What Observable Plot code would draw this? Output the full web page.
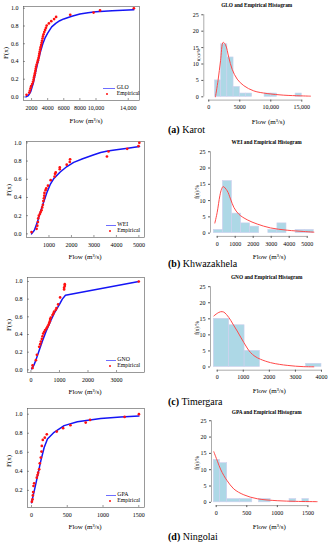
<!DOCTYPE html>
<html><head><meta charset="utf-8">
<script src="https://cdn.jsdelivr.net/npm/d3@7"></script>
<script src="https://cdn.jsdelivr.net/npm/@observablehq/plot@0.6"></script>
<style>
body{margin:0;background:#fff;}
#root{position:relative;width:331px;height:550px;overflow:hidden;font-family:"Liberation Serif","DejaVu Serif",serif;color:#000;background:#fff;}
#root svg{position:absolute;overflow:visible;}
.t{position:absolute;white-space:nowrap;line-height:1;}
</style></head><body><div id="root"></div>
<script>
// ---------------- DATA ----------------
// (a) Karot
const karotEmpX = [1380,1720,1800,1880,1950,2080,2180,2250,2300,2360,2420,2470,2520,2560,2640,2720,2800,2860,2920,2960,3020,3080,3130,3190,3250,3300,3360,3420,3490,3580,3680,3790,3880,4150,4450,4800,5050,6800,9700,10500,14700];
const karotEmpY = [0.024,0.049,0.073,0.098,0.122,0.146,0.171,0.195,0.220,0.244,0.268,0.293,0.317,0.341,0.366,0.390,0.415,0.439,0.463,0.488,0.512,0.537,0.561,0.585,0.610,0.634,0.659,0.683,0.707,0.732,0.756,0.780,0.805,0.829,0.854,0.878,0.902,0.927,0.951,0.976,1.000];
const karotFitX = [1300,1600,1900,2200,2500,2800,3100,3400,3700,4000,4500,5000,5500,6000,7000,8000,9000,10000,12000,14700];
const karotFitY = [0.0,0.015,0.06,0.15,0.28,0.40,0.51,0.60,0.67,0.72,0.79,0.83,0.86,0.88,0.91,0.935,0.95,0.96,0.972,0.982];
const karotBinLo = [1000,2000,3000,4000,5000,6000,9000,10000,14000];
const karotBinHi = [2000,3000,4000,5000,6000,7000,10000,11000,15000];
const karotCount = [5,16,12,3,1,1,1,1,1];
const karotPdfX = [1080,1500,1900,2320,2690,3230,3770,4580,5650,7260,9410,12100,14800,16400];
const karotPdfY = [0,5,11,16.6,15.9,12,8.4,5.4,3.4,1.8,1.0,0.5,0.3,0.2];

// (b) Khwazakhela
const khwaEmpX = [224,450,480,507,520,550,600,630,670,700,730,750,775,790,800,850,880,955,1075,1250,1270,1300,1480,1480,1790,1925,1940,3580,3650,4480,4980,5020];
const khwaEmpY = [0.02,0.055,0.09,0.13,0.17,0.20,0.22,0.24,0.26,0.29,0.32,0.36,0.39,0.42,0.45,0.48,0.50,0.53,0.59,0.63,0.66,0.675,0.71,0.73,0.76,0.79,0.82,0.85,0.905,0.935,0.965,1.0];
const khwaFitX = [224,350,500,630,750,900,1050,1220,1500,1800,2100,2500,3000,3300,3610,4000,4500,5030];
const khwaFitY = [0.0,0.04,0.14,0.25,0.34,0.45,0.54,0.61,0.68,0.74,0.785,0.825,0.87,0.895,0.91,0.925,0.94,0.96];
const khwaBinLo = [-190,315,820,1325,1830,2840,3345,4355,4860];
const khwaBinHi = [315,820,1325,1830,2335,3345,3850,4860,5365];
const khwaCount = [1,16,6,3,2,1,3,1,1];
const khwaPdfX = [-130,0,148,241,333,555,740,926,1204,1667,2222,2963,3889,4815,5370];
const khwaPdfY = [3.1,6.4,11.5,13.5,14.3,13.0,10.5,7.9,5.8,4.1,2.8,1.6,0.9,0.5,0.3];

// (c) Timergara
const timEmpX = [58,58,174,209,290,326,349,384,407,430,465,500,547,581,616,640,663,674,698,756,790,814,872,895,953,1023,1163,1163,1186,1186,3780];
const timEmpY = [0.02,0.05,0.11,0.17,0.26,0.29,0.32,0.35,0.38,0.41,0.43,0.45,0.47,0.49,0.51,0.53,0.55,0.575,0.59,0.62,0.64,0.66,0.68,0.70,0.74,0.82,0.91,0.93,0.95,0.97,1.0];
const timFitX = [23,100,174,300,407,550,698,850,1000,1100,1210,3780];
const timFitY = [0.01,0.05,0.11,0.23,0.33,0.45,0.56,0.66,0.74,0.80,0.845,1.0];
const timBinLo = [-130,460,1050,3410];
const timBinHi = [460,1050,1640,4000];
const timCount = [15,13,5,1];
const timPdfX = [-128,0,128,250,447,600,767,900,1022,1150,1278,1450,1661,2045,2400,2684,3000,3323,3706];
const timPdfY = [15.9,16.7,17.2,17.1,15.4,13.4,11.2,9.3,7.6,5.9,4.5,3.3,2.4,1.35,0.8,0.5,0.25,0.1,0.05];

// (d) Ningolai
const ninEmpX = [5,14,19,23,28,37,74,84,93,107,116,130,140,144,158,186,214,353,442,544,758,819,1302,1502];
const ninEmpY = [0.081,0.105,0.147,0.182,0.246,0.274,0.333,0.361,0.386,0.421,0.484,0.544,0.607,0.667,0.73,0.754,0.789,0.818,0.853,0.884,0.912,0.94,0.972,1.0];
const ninFitX = [0,37,84,130,177,223,316,456,642,967,1247,1502];
const ninFitY = [0.07,0.19,0.35,0.51,0.65,0.74,0.81,0.88,0.92,0.955,0.97,0.98];
const ninBinLo = [-40,60,180,385,700,1200,1410];
const ninBinHi = [60,180,385,590,890,1310,1515];
const ninCount = [13,12,1,1,1,1,1];
const ninPdfX = [-39,20,70,125,180,288,452,671,998,1300,1650];
const ninPdfY = [15.5,12.6,10.2,8.2,6.6,4.1,2.3,1.1,0.5,0.3,0.2];

// tick labels
const karotCdfTicks = [2000,4000,6000,8000,10000,14000];
const karotCdfLabels = ["2000","4000","6000","8000","10,000","14,000"];
const khwaCdfTicks = [1000,2000,3000,4000,5000];
const timCdfTicks = [0,1000,2000,3000];
const ninCdfTicks = [0,500,1000,1500];
const cdfYTicks = [0,0.2,0.4,0.6,0.8,1.0];
const ninCdfYTicks = [0.2,0.4,0.6,0.8,1.0];
const karotHistTicks = [0,5000,10000,15000];
const karotHistLabels = ["0","5000","10,000","15,000"];
const khwaHistTicks = [0,1000,2000,3000,4000,5000];
const timHistTicks = [0,1000,2000,3000,4000];
const ninHistTicks = [0,500,1000,1500];
const histYTicks = [0,5,10,15,20,25];

const fitNames = ["GLO","WEI","GNO","GPA"];
const siteNames = ["Karot","Khwazakhela","Timergara","Ningolai"];
const captionLetters = ["(a)","(b)","(c)","(d)"];

// ---------------- DRAW ----------------
const root = document.getElementById("root");
const FONT = '"Liberation Serif","DejaVu Serif",serif';
function pts(xs, ys){ return xs.map((x,i)=>({x, y: ys[i]})); }
function bins(lo, hi, n){ return lo.map((l,i)=>({lo:l, hi:hi[i], n:n[i]})).filter(d=>d.n>0); }
function place(svg, left, top){ svg.style.left = left+"px"; svg.style.top = top+"px"; root.appendChild(svg); }
function text(str, x, y, o={}){
  const d = document.createElement("div");
  d.className = "t";
  d.innerHTML = str;
  d.style.fontSize = (o.size||7)+"px";
  if (o.bold) d.style.fontWeight = "bold";
  d.style.left = x+"px"; d.style.top = y+"px";
  let tr = o.anchor==="start" ? "translate(0,-50%)" : "translate(-50%,-50%)";
  if (o.rotate) tr += " rotate(-90deg)";
  d.style.transform = tr;
  root.appendChild(d);
}
function box(x, y, w, h, color, radius){
  const d = document.createElement("div");
  d.style.position="absolute"; d.style.left=x+"px"; d.style.top=y+"px";
  d.style.width=w+"px"; d.style.height=h+"px"; d.style.background=color;
  if (radius) d.style.borderRadius = radius;
  root.appendChild(d);
}
function fmtMap(ticks, labels){ const m = new Map(ticks.map((t,i)=>[t, labels ? labels[i] : String(t)])); return d => m.get(d); }

const cdfPanels = [
  {frame:[23,139,6,100], xDomain:[1000,15400], yDomain:[-0.04,1.02], xTicks:karotCdfTicks, xLabels:karotCdfLabels, yTicks:cdfYTicks, fx:karotFitX, fy:karotFitY, ex:karotEmpX, ey:karotEmpY, yLab:[6,53], xLab:[86,121], leg:[103,115]},
  {frame:[26,144,141,237], xDomain:[0,5250], yDomain:[-0.04,1.015], xTicks:khwaCdfTicks, yTicks:cdfYTicks, fx:khwaFitX, fy:khwaFitY, ex:khwaEmpX, ey:khwaEmpY, yLab:[9,190], xLab:[85,257], leg:[106,115.5]},
  {frame:[27,144,277,372], xDomain:[-120,3980], yDomain:[-0.03,1.045], xTicks:timCdfTicks, yTicks:cdfYTicks, fx:timFitX, fy:timFitY, ex:timEmpX, ey:timEmpY, yLab:[9,325], xLab:[85,392], leg:[106,115.5]},
  {frame:[27,144,408,507], xDomain:[-56,1580], yDomain:[0.02,1.06], xTicks:ninCdfTicks, yTicks:ninCdfYTicks, fx:ninFitX, fy:ninFitY, ex:ninEmpX, ey:ninEmpY, yLab:[9,461], xLab:[85,527], leg:[106,115.5]}
];

cdfPanels.forEach((p, k) => {
  const [fl, fr, ft, fb] = p.frame;
  const W = 168, mt = 6, mb = 16;
  const fh = fb - ft;
  const svg = Plot.plot({
    width: W, height: fh + mt + mb,
    marginLeft: fl, marginRight: W - fr, marginTop: mt, marginBottom: mb,
    x: {domain: p.xDomain, label: null},
    y: {domain: p.yDomain, label: null},
    style: {fontFamily: FONT, fontSize: "6px", background: "transparent", color: "#000"},
    marks: [
      Plot.frame({stroke: "#555", strokeWidth: 0.6}),
      Plot.tickX(p.xTicks, {x: d=>d, insetTop: fh - 2, stroke: "#555", strokeWidth: 0.6}),
      Plot.tickY(p.yTicks, {y: d=>d, insetRight: (fr - fl) - 2, stroke: "#555", strokeWidth: 0.6}),
      Plot.axisX(p.xTicks, {tickSize: 0, tickPadding: 5, tickFormat: fmtMap(p.xTicks, p.xLabels)}),
      Plot.axisY(p.yTicks, {tickSize: 0, tickPadding: 5, tickFormat: d => d.toFixed(1)}),
      Plot.line(pts(p.fx, p.fy), {x:"x", y:"y", stroke:"#1515f5", strokeWidth:1.5}),
      Plot.dot(pts(p.ex, p.ey), {x:"x", y:"y", r:1.35, fill:"#ff1010", stroke:"none"})
    ]
  });
  place(svg, 0, ft - mt);
  text("F(x)", p.yLab[0], p.yLab[1], {size:7, rotate:true});
  text("Flow (m³/s)", p.xLab[0], p.xLab[1], {size:7});
  // legend
  const [l0, l1] = p.leg;
  box(l0, fb - 12.3, l1 - l0, 0.8, "#6e6eff");
  text(fitNames[k], l1 + 1.8, fb - 12, {size:5.8, anchor:"start"});
  box(l0 + 2.8, fb - 7.3, 2.6, 2.6, "#ff1010", "50%");
  text("Empirical", l1 + 1.8, fb - 6, {size:5.8, anchor:"start"});
});

const histPanels = [
  {axisX:203.3, top:10.7, bottom:99.3, xDomain:[-800,17500], right:316.8, xTicks:karotHistTicks, xLabels:karotHistLabels, b:bins(karotBinLo,karotBinHi,karotCount), pdf:pts(karotPdfX,karotPdfY), title:[256.7,6], yLab:[199,55], ySize:4.8, xLab:[268.3,121.7]},
  {axisX:210, top:147.7, bottom:235.6, xDomain:[-372,5450], right:314.8, xTicks:khwaHistTicks, b:bins(khwaBinLo,khwaBinHi,khwaCount), pdf:pts(khwaPdfX,khwaPdfY), title:[266.7,143.3], yLab:[197.5,191.7], ySize:5.2, xLab:[269.3,256.7]},
  {axisX:210, top:282.5, bottom:369.2, xDomain:[-257,4150], right:324.9, xTicks:timHistTicks, b:bins(timBinLo,timBinHi,timCount), pdf:pts(timPdfX,timPdfY), title:[266.7,278.3], yLab:[197.5,328], ySize:5.2, xLab:[269.3,390.7]},
  {axisX:211, top:416.9, bottom:505, xDomain:[-77,1680], right:318.4, xTicks:ninHistTicks, b:bins(ninBinLo,ninBinHi,ninCount), pdf:pts(ninPdfX,ninPdfY), title:[266.7,413.3], yLab:[197.5,463], ySize:5.2, xLab:[269.3,526.7]}
];

histPanels.forEach((p, k) => {
  const L = 170, W = 161, svgTop = p.top - 7, mt = 7, mb = 14;
  const yDomain = [-1, 26];
  const svg = Plot.plot({
    width: W, height: (p.bottom - p.top) + mt + mb,
    marginLeft: p.axisX - L, marginRight: (L + W) - p.right, marginTop: mt, marginBottom: mb,
    x: {domain: p.xDomain, label: null},
    y: {domain: yDomain, label: null},
    style: {fontFamily: FONT, fontSize: "6px", background: "transparent", color: "#000"},
    marks: [
      Plot.rect(p.b, {x1:"lo", x2:"hi", y1:0, y2:"n", fill:"#add8e6", stroke:"#cfd0ee", strokeWidth:0.6}),
      Plot.line(p.pdf, {x:"x", y:"y", stroke:"#ff4848", strokeWidth:1, curve:"catmull-rom"}),
      Plot.ruleY([yDomain[0]], {x1: p.xTicks[0], x2: p.xTicks[p.xTicks.length-1], stroke:"#555", strokeWidth:0.5}),
      Plot.ruleX([p.xDomain[0]], {y1: histYTicks[0], y2: histYTicks[histYTicks.length-1], stroke:"#555", strokeWidth:0.5}),
      Plot.axisX(p.xTicks, {tickSize: 2, tickPadding: 3, stroke:"#555", tickFormat: fmtMap(p.xTicks, p.xLabels)}),
      Plot.axisY(histYTicks, {tickSize: 2, tickPadding: 3, stroke:"#555", tickFormat: d => String(d)})
    ]
  });
  place(svg, L, svgTop);
  text(fitNames[k] + " and Empirical Histogram", p.title[0], p.title[1], {size:5.3, bold:true});
  text("f(x)/%", p.yLab[0], p.yLab[1], {size:p.ySize, rotate:true});
  text("Flow (m³/s)", p.xLab[0], p.xLab[1], {size:7});
});

const capY = [130, 264, 402, 537];
capY.forEach((y, k) => {
  text("<b>" + captionLetters[k] + "</b> " + siteNames[k], 168, y, {size:10, anchor:"start"});
});
</script></body></html>
